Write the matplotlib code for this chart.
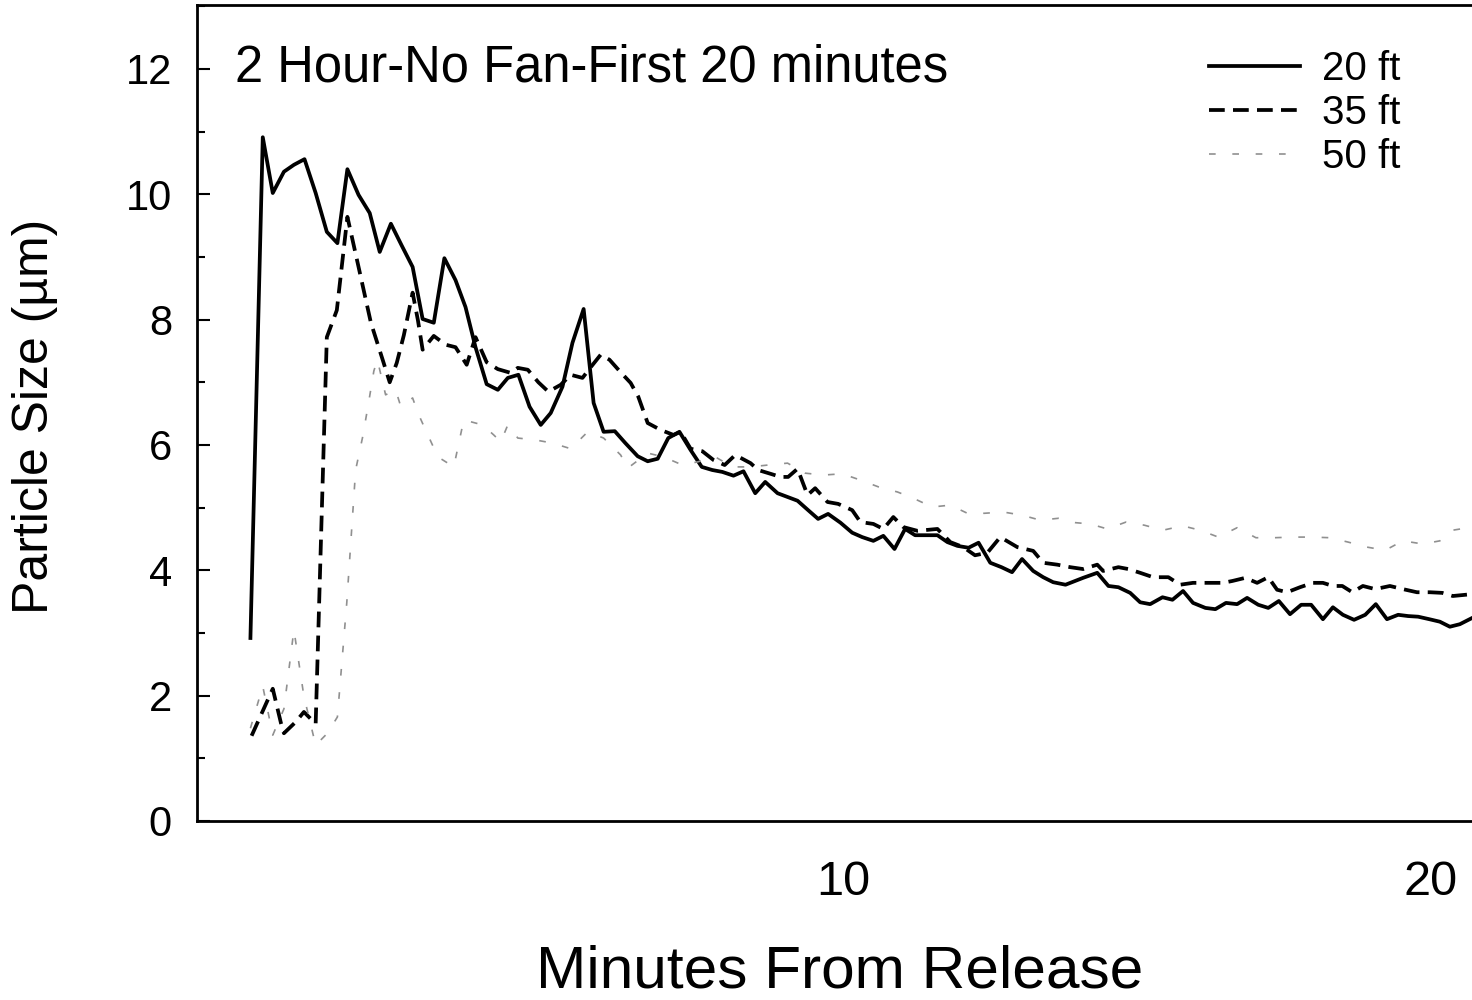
import matplotlib
matplotlib.use('Agg')
import matplotlib.pyplot as plt
from matplotlib.ticker import MultipleLocator

plt.rcParams['font.family'] = ['Liberation Sans', 'DejaVu Sans']

# 20 ft
t_20 = [-0.09, 0.12, 0.29, 0.48, 0.65, 0.83, 1.02, 1.21, 1.39, 1.56, 1.75, 1.94, 2.11, 2.30, 2.48,
        2.67, 2.84, 3.03, 3.21, 3.40, 3.57, 3.74, 3.93, 4.12, 4.29, 4.47, 4.66, 4.85, 5.02, 5.22,
        5.39, 5.58, 5.75, 5.92, 6.11, 6.29, 6.50, 6.67, 6.84, 7.02, 7.21, 7.40, 7.59, 7.77, 7.94,
        8.13, 8.30, 8.50, 8.67, 8.88, 9.05, 9.22, 9.40, 9.57, 9.74, 9.95, 10.15, 10.32, 10.51,
        10.68, 10.87, 11.05, 11.22, 11.41, 11.60, 11.77, 11.94, 12.13, 12.30, 12.50, 12.69, 12.87,
        13.04, 13.23, 13.40, 13.57, 13.78, 14.08, 14.32, 14.51, 14.68, 14.88, 15.05, 15.22, 15.43,
        15.60, 15.78, 15.95, 16.16, 16.33, 16.51, 16.70, 16.87, 17.06, 17.23, 17.41, 17.60, 17.79,
        17.96, 18.16, 18.33, 18.50, 18.69, 18.88, 19.06, 19.25, 19.44, 19.61, 19.78, 19.97, 20.15,
        20.32, 20.49, 20.70]
size_20 = [2.92, 10.91, 10.02, 10.36, 10.47, 10.56, 10.02, 9.40, 9.22, 10.40, 9.99, 9.70, 9.08, 9.53,
           9.19, 8.84, 8.01, 7.95, 8.98, 8.63, 8.20, 7.56, 6.97, 6.88, 7.07, 7.12, 6.61, 6.32, 6.51,
           6.93, 7.63, 8.17, 6.67, 6.21, 6.22, 6.03, 5.82, 5.74, 5.78, 6.11, 6.21, 5.92, 5.65, 5.60,
           5.57, 5.51, 5.58, 5.23, 5.41, 5.23, 5.17, 5.11, 4.96, 4.82, 4.90, 4.76, 4.60, 4.53, 4.47,
           4.55, 4.34, 4.66, 4.56, 4.56, 4.56, 4.45, 4.39, 4.36, 4.44, 4.12, 4.05, 3.97, 4.18, 3.99,
           3.89, 3.81, 3.77, 3.88, 3.96, 3.75, 3.73, 3.64, 3.49, 3.46, 3.57, 3.53, 3.67, 3.48, 3.40,
           3.38, 3.48, 3.46, 3.56, 3.45, 3.40, 3.51, 3.30, 3.45, 3.45, 3.22, 3.41, 3.29, 3.21, 3.29,
           3.46, 3.22, 3.29, 3.27, 3.26, 3.22, 3.18, 3.10, 3.14, 3.24]

# 35 ft
t_35 = [-0.07, 0.29, 0.43, 0.48, 0.68, 0.82, 1.02, 1.21, 1.38, 1.56, 1.75, 1.96, 2.16, 2.28, 2.40,
        2.52, 2.67, 2.76, 2.84, 3.03, 3.23, 3.40, 3.59, 3.74, 3.93, 4.12, 4.34, 4.46, 4.63, 4.81,
        4.98, 5.19, 5.36, 5.56, 5.70, 5.87, 6.02, 6.21, 6.38, 6.51, 6.67, 6.89, 7.11, 7.23, 7.40,
        7.60, 7.79, 7.98, 8.16, 8.42, 8.55, 8.76, 8.93, 9.06, 9.22, 9.39, 9.52, 9.73, 9.91, 10.15,
        10.29, 10.51, 10.68, 10.85, 11.02, 11.26, 11.60, 11.82, 12.04, 12.24, 12.45, 12.67, 12.96,
        13.23, 13.40, 13.64, 13.86, 14.08, 14.32, 14.42, 14.68, 14.85, 15.05, 15.27, 15.53, 15.73,
        15.95, 16.19, 16.46, 16.62, 16.84, 17.04, 17.23, 17.38, 17.55, 17.77, 17.99, 18.16, 18.33,
        18.49, 18.66, 18.84, 19.05, 19.30, 19.52, 19.76, 19.98, 20.19, 20.37, 20.70]
size_35 = [1.36, 2.11, 1.56, 1.40, 1.58, 1.74, 1.55, 7.72, 8.15, 9.64, 8.84, 7.95, 7.36, 7.00, 7.31,
           7.75, 8.43, 7.99, 7.52, 7.74, 7.60, 7.56, 7.28, 7.72, 7.32, 7.21, 7.15, 7.23, 7.20, 7.00,
           6.85, 6.96, 7.12, 7.07, 7.24, 7.44, 7.36, 7.16, 6.99, 6.77, 6.35, 6.24, 6.16, 6.21, 5.94,
           5.90, 5.76, 5.68, 5.84, 5.71, 5.60, 5.54, 5.49, 5.49, 5.62, 5.20, 5.31, 5.09, 5.06, 4.96,
           4.77, 4.74, 4.66, 4.85, 4.69, 4.63, 4.66, 4.45, 4.37, 4.24, 4.28, 4.53, 4.37, 4.31, 4.12,
           4.09, 4.05, 4.02, 4.09, 3.99, 4.05, 4.02, 3.96, 3.89, 3.89, 3.77, 3.80, 3.80, 3.80, 3.83,
           3.88, 3.80, 3.89, 3.69, 3.65, 3.73, 3.80, 3.80, 3.75, 3.75, 3.65, 3.75, 3.70, 3.75, 3.70,
           3.65, 3.65, 3.64, 3.59, 3.62]

# 50 ft
t_50 = [-0.09, 0.12, 0.29, 0.48, 0.65, 0.82, 1.02, 1.22, 1.39, 1.55, 1.70, 1.82, 1.92, 2.01, 2.07,
        2.21, 2.38, 2.47, 2.67, 2.76, 2.89, 3.10, 3.37, 3.54, 3.86, 4.05, 4.17, 4.29, 4.46, 4.76,
        5.05, 5.36, 5.65, 5.92, 6.21, 6.33, 6.67, 6.94, 7.26, 7.52, 7.82, 8.11, 8.42, 8.72, 9.05,
        9.35, 9.66, 9.98, 10.29, 10.60, 10.92, 11.19, 11.51, 11.82, 12.11, 12.40, 12.72, 13.04,
        13.35, 13.66, 13.95, 14.20, 14.49, 14.81, 15.12, 15.44, 15.77, 16.07, 16.38, 16.70, 17.02,
        17.33, 17.65, 17.98, 18.28, 18.59, 18.91, 19.22, 19.52, 19.86, 20.15, 20.37, 20.70]
size_50 = [1.48, 2.15, 1.37, 1.79, 3.05, 1.99, 1.21, 1.40, 1.66, 3.49, 5.60, 6.13, 6.67, 7.18, 7.36,
           6.80, 6.88, 6.61, 6.75, 6.51, 6.24, 5.81, 5.65, 6.40, 6.32, 6.16, 6.05, 6.32, 6.11, 6.08,
           6.03, 5.94, 6.21, 6.11, 5.84, 5.63, 5.87, 5.81, 5.68, 5.73, 5.81, 5.65, 5.65, 5.68, 5.71,
           5.55, 5.52, 5.54, 5.44, 5.33, 5.25, 5.15, 5.01, 5.04, 4.91, 4.91, 4.93, 4.88, 4.80, 4.83,
           4.76, 4.74, 4.66, 4.77, 4.72, 4.64, 4.71, 4.64, 4.53, 4.68, 4.52, 4.52, 4.53, 4.53, 4.52,
           4.45, 4.37, 4.32, 4.47, 4.42, 4.47, 4.64, 4.69]

fig = plt.figure(figsize=(14.72, 10), dpi=100)
ax = fig.add_axes([0.1338, 0.179, 0.8783, 0.816])

ax.plot(t_20, size_20, color='black', lw=2.7, label='20 ft')
ax.plot(t_35, size_35, color='black', lw=2.7, ls=(0, (4.2, 2.2)), label='35 ft')
ax.plot(t_50, size_50, color='#909090', lw=1.2, ls=(0, (4, 10)), label='50 ft')

ax.set_xlim(-1, 21)
ax.set_ylim(0, 13.02)
ax.set_xticks([10, 20])
ax.set_yticks([0, 2, 4, 6, 8, 10, 12])
ax.yaxis.set_minor_locator(MultipleLocator(1))

ax.tick_params(axis='x', length=0, pad=28, labelsize=35)
ax.tick_params(axis='y', which='major', direction='in', length=9.5, width=1.5, pad=18, labelsize=30)
ax.tick_params(axis='y', which='minor', direction='in', length=5.8, width=1.5)

for s in ['left', 'bottom', 'top']:
    ax.spines[s].set_linewidth(2)
ax.spines['right'].set_visible(False)

fig.text(0.1596, 1 - 0.081, '2 Hour-No Fan-First 20 minutes', fontsize=36.5, va='baseline', ha='left')
fig.text(0.5707, 0.013, 'Minutes From Release', fontsize=43.5, va='baseline', ha='center')
fig.text(0.0235, 0.584, 'Particle Size (µm)', fontsize=36, rotation=90, va='center', ha='center')

fig.legend(loc='upper left', bbox_to_anchor=(0.8213, 0.950), frameon=False, fontsize=29,
           handlelength=2.25, handletextpad=0.55, labelspacing=0.15, borderpad=0, borderaxespad=0)

fig.savefig('out.png', dpi=100)
